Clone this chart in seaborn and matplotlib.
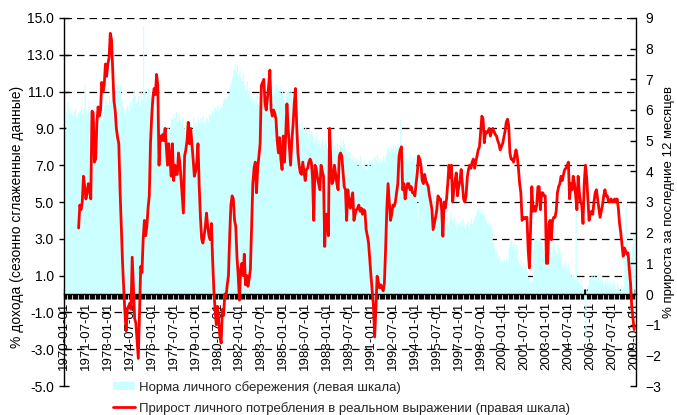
import numpy as np
import matplotlib
matplotlib.use("Agg")
import matplotlib.pyplot as plt
import seaborn as sns

# personal saving rate, % of income (left scale), monthly 1970-01 .. 2009-01
savings = [
    8.2, 8.9, 9.9, 10.5, 10.1, 9.8, 10.0, 9.7, 9.9, 10.1, 9.6, 9.8,
    9.9, 10.0, 10.2, 9.8, 10.1, 11.4, 10.0, 9.8, 10.2, 9.9, 10.1, 9.7,
    9.6, 9.3, 9.5, 9.2, 9.6, 9.4, 9.8, 9.5, 9.9, 10.3, 10.6, 10.4,
    10.3, 10.8, 10.5, 11.0, 11.2, 11.5, 11.0, 11.8, 11.4, 11.0, 11.3, 10.6,
    10.2, 10.0, 9.8, 10.1, 10.3, 10.0, 10.5, 10.2, 10.6, 11.1, 10.8, 10.4,
    10.5, 10.8, 10.3, 11.0, 10.6, 14.6, 11.1, 10.4, 10.8, 11.2, 10.6, 10.9,
    10.6, 10.1, 9.8, 10.0, 9.6, 9.4, 9.6, 9.3, 8.9, 9.2, 8.8, 9.0,
    8.9, 9.1, 8.8, 9.2, 9.6, 9.5, 9.8, 9.6, 9.9, 9.4, 9.7, 9.5,
    9.3, 9.6, 9.1, 8.9, 9.2, 9.0, 9.4, 8.8, 9.3, 9.0, 9.6, 9.2,
    9.4, 9.1, 9.5, 9.3, 9.6, 9.4, 9.7, 9.3, 9.5, 9.6, 9.4, 9.8,
    9.7, 10.0, 9.9, 10.2, 10.1, 10.0, 10.3, 9.9, 10.1, 10.2, 10.4, 10.6,
    10.7, 10.6, 10.8, 10.9, 11.3, 11.5, 11.8, 12.2, 12.5, 12.1, 12.4, 11.9,
    12.2, 11.8, 11.6, 12.0, 11.4, 11.1, 11.6, 10.9, 11.2, 10.6, 10.8, 10.4,
    10.6, 10.3, 10.8, 10.4, 10.1, 10.5, 10.2, 10.6, 10.9, 10.4, 10.8, 11.0,
    10.8, 11.1, 10.9, 11.3, 11.0, 11.4, 11.2, 11.4, 11.0, 11.3, 10.9, 11.1,
    10.6, 10.4, 10.8, 11.0, 11.2, 10.9, 11.1, 10.5, 10.2, 10.7, 10.3, 10.0,
    9.6, 9.3, 9.0, 9.4, 9.1, 8.8, 9.2, 8.9, 8.5, 9.0, 8.7, 8.9,
    8.6, 8.3, 8.5, 8.8, 8.2, 8.4, 8.0, 8.3, 8.5, 8.1, 8.4, 8.2,
    8.0, 8.3, 7.9, 8.2, 8.4, 8.0, 8.1, 7.8, 8.2, 7.9, 8.1, 8.3,
    8.0, 8.4, 8.2, 7.9, 7.6, 7.8, 7.4, 7.7, 7.3, 7.5, 7.2, 7.4,
    7.3, 7.0, 7.2, 7.5, 7.1, 6.9, 7.2, 7.0, 6.8, 7.1, 7.3, 7.0,
    7.2, 7.4, 7.1, 7.5, 7.3, 7.6, 7.2, 7.4, 7.1, 7.3, 7.5, 7.2,
    7.6, 7.9, 8.0, 7.8, 8.0, 7.9, 8.1, 7.8, 8.0, 7.9, 8.2, 8.0,
    9.5, 7.6, 7.3, 7.5, 7.2, 7.4, 7.1, 7.3, 7.6, 7.2, 7.4, 7.5,
    7.1, 6.8, 4.1, 6.6, 6.5, 6.2, 6.4, 6.0, 6.3, 6.5, 6.1, 6.0,
    5.6, 5.3, 5.1, 5.4, 5.0, 5.2, 5.3, 5.0, 5.2, 4.9, 5.1, 5.3,
    4.0, 3.8, 4.2, 3.7, 4.0, 4.5, 4.1, 3.9, 4.2, 3.8, 3.6, 3.9,
    3.8, 4.0, 3.7, 4.1, 3.9, 3.6, 3.8, 4.0, 3.7, 3.9, 4.1, 3.8,
    4.0, 4.2, 4.4, 4.6, 4.7, 4.5, 4.4, 4.6, 4.3, 4.4, 4.1, 3.8,
    3.9, 3.7, 3.8, 3.6, 2.9, 2.6, 2.2, 2.4, 2.0, 2.1, 1.8, 1.9,
    1.7, 1.9, 1.8, 2.0, 1.8, 2.5, 2.9, 3.0, 2.6, 2.8, 2.4, 2.7,
    2.0, 1.8, 1.6, 1.9, 1.5, 1.7, 1.4, 1.6, 1.2, 0.9, 0.6, 0.8,
    0.7, 2.4, 3.0, 3.1, 3.0, 2.9, 3.1, 3.0, 2.8, 2.4, 2.2, 2.0,
    1.8, 2.1, 1.7, 2.3, 2.0, 2.6, 2.8, 2.4, 2.2, 2.7, 2.5, 2.3,
    1.9, 1.6, 1.4, 1.8, 1.5, 1.3, 1.7, 1.2, 1.0, 0.9, 1.1, 0.8,
    4.6, 0.9, 0.7, 0.6, 0.8, 0.5, 0.3, -0.4, -2.7, 0.2, 0.5, 0.8,
    0.9, 1.1, 0.8, 1.0, 0.7, 0.9, 1.1, 0.6, 0.8, 1.0, 0.7, 0.5,
    0.8, 0.6, 0.9, 0.5, 0.7, 0.4, 0.6, 0.8, 0.5, 0.3, 0.6, 0.4,
    0.2, 0.5, 0.3, 0.4, 2.6, 4.8, 2.8, 1.6, 1.2, 2.0, 2.6, 3.2,
    3.4,
]

# real personal consumption, % change over 12 months (right scale), 1971-01 .. 2009-01
consumption = [
    2.15, 2.9, 2.75, 3.0, 3.84, 3.5, 3.1, 3.3, 3.6, 3.4, 3.1, 5.96,
    5.9, 4.3, 4.4, 5.6, 6.1, 5.8, 6.0, 6.9, 6.6, 6.8, 7.5, 7.1,
    7.5, 7.7, 8.5, 8.3, 7.3, 6.3, 6.0, 5.4, 5.1, 4.9, 3.4, 2.2,
    1.1, 0.2, -0.6, -1.2, -0.5, -0.4, -0.3, -0.5, 1.2, 0.2, -0.8, -0.95,
    -1.5, -2.1, -0.6, 0.9, 0.7, 1.8, 2.4, 1.9, 2.2, 2.8, 3.2, 4.9,
    5.8, 6.4, 6.7, 6.5, 7.16, 6.8, 4.2, 5.15, 5.0, 5.2, 5.0, 5.4,
    4.8, 4.2, 4.9, 4.4, 3.84, 4.9, 3.7, 4.2, 3.9, 3.9, 4.6, 4.3,
    3.8, 3.2, 2.64, 4.5, 4.7, 5.0, 5.6, 4.9, 5.4, 4.9, 4.4, 3.84,
    4.0, 4.3, 4.9, 3.5, 2.5, 1.8, 1.66, 1.9, 2.2, 2.64, 2.2, 1.9,
    1.77, 2.3, 1.12, 0.14, -0.5, -1.0, -0.4, -0.9, -1.4, -1.6, -0.5, -0.7,
    0.0, -0.1, 0.3, 0.6, 1.9, 2.9, 3.2, 3.1, 2.4, 2.2, 1.2, 0.6,
    -0.2, 0.8, 1.0, 0.6, 1.3, 0.3, 0.6, 0.25, 0.5, 0.8, 2.2, 3.6,
    4.1, 4.3, 3.3, 4.1, 4.5, 4.9, 6.8, 6.9, 7.0, 6.2, 6.0, 6.4,
    6.8, 7.3, 6.0, 5.8, 6.0, 5.9, 5.7, 5.0, 4.6, 5.1, 4.4, 4.06,
    5.15, 4.3, 5.2, 6.2, 5.4, 4.8, 4.2, 5.0, 5.5, 6.2, 6.7, 5.5,
    4.6, 4.2, 3.95, 3.9, 4.3, 4.0, 3.7, 4.06, 4.1, 4.3, 4.4, 4.3,
    3.8, 2.4, 4.2, 4.1, 3.8, 3.6, 3.4, 4.2, 4.0, 3.84, 1.55, 2.6,
    2.6, 1.9, 5.4, 4.3, 3.6, 3.7, 4.2, 3.9, 3.6, 3.4, 4.5, 4.6,
    4.5, 4.0, 3.5, 3.4, 2.4, 3.4, 3.0, 2.8, 3.1, 3.3, 2.4, 2.6,
    2.75, 2.8, 2.9, 2.7, 2.8, 2.6, 2.75, 2.7, 2.1, 1.9, 1.66, 1.12,
    0.58, 0.1, -0.4, -1.4, -0.5, 0.58, 0.4, 0.2, 0.3, 0.2, 0.1, 0.36,
    1.5, 2.8, 3.6, 3.0, 2.4, 2.6, 2.9, 2.86, 3.0, 3.3, 3.6, 4.5,
    4.7, 4.8, 3.4, 3.6, 3.1, 3.4, 3.6, 3.6, 3.4, 3.5, 3.3, 3.3,
    3.2, 3.6, 3.95, 4.5, 4.4, 4.2, 3.7, 3.6, 3.9, 3.7, 3.6, 3.5,
    3.2, 3.0, 2.75, 2.1, 2.3, 2.5, 2.75, 3.2, 3.1, 3.1, 2.75, 1.88,
    3.0, 2.8, 3.1, 3.6, 4.2, 3.8, 4.2, 3.0, 3.4, 3.7, 3.95, 3.2,
    3.5, 3.7, 4.06, 3.6, 3.1, 3.0, 3.2, 3.8, 4.06, 4.2, 4.1, 4.3,
    4.4, 4.1, 4.3, 4.5, 4.7, 4.8, 5.3, 5.8, 5.7, 4.93, 5.3, 5.25,
    5.3, 5.4, 5.15, 5.3, 5.4, 5.3, 5.2, 5.15, 5.0, 4.9, 4.7, 4.8,
    4.9, 5.1, 5.3, 5.6, 5.7, 5.5, 4.6, 4.4, 4.4, 4.3, 4.5, 4.7,
    4.5, 4.1, 3.6, 3.3, 2.4, 2.5, 2.45, 2.5, 2.5, 1.45, 0.85, 2.2,
    3.5, 2.7, 2.86, 2.7, 2.9, 3.5, 3.5, 2.75, 3.3, 3.3, 3.2, 3.2,
    1.0, 1.0, 2.3, 2.4, 1.77, 2.4, 2.5, 2.5, 2.7, 3.3, 3.5, 3.6,
    3.84, 3.7, 3.9, 4.06, 4.1, 4.2, 4.3, 3.1, 3.6, 3.4, 3.84, 3.6,
    3.2, 2.75, 3.84, 3.3, 3.0, 2.9, 2.3, 3.6, 4.2, 3.8, 3.1, 2.4,
    2.6, 2.7, 2.6, 3.0, 3.3, 3.4, 3.1, 2.8, 2.5, 2.7, 2.9, 3.2,
    3.4, 3.2, 3.2, 3.0, 3.0, 3.1, 3.0, 3.0, 3.1, 3.0, 3.1, 2.8,
    2.3, 2.0, 1.6, 1.23, 1.5, 1.4, 1.3, 1.34, 0.8, 0.36, -0.4, -0.8,
    -1.16,
]
cons_start = 12  # growth series begins in 1971-01

tick_labels = [
    "1970-01-01", "1971-07-01", "1973-01-01", "1974-07-01", "1976-01-01",
    "1977-07-01", "1979-01-01", "1980-07-01", "1982-01-01", "1983-07-01",
    "1985-01-01", "1986-07-01", "1988-01-01", "1989-07-01", "1991-01-01",
    "1992-07-01", "1994-01-01", "1995-07-01", "1997-01-01", "1998-07-01",
    "2000-01-01", "2001-07-01", "2003-01-01", "2004-07-01", "2006-01-01",
    "2007-07-01", "2009-01-01",
]
tick_step = 18

left_label = "% дохода (сезонно сглаженные данные)"
right_label = "% прироста за последние 12 месяцев"
sav_name = "Норма личного сбережения (левая шкала)"
cons_name = "Прирост личного потребления в реальном выражении (правая шкала)"

sns.set_style("ticks")
plt.rcParams['font.family'] = ['Liberation Sans', 'DejaVu Sans']

fig = plt.figure(figsize=(6.77, 4.15), dpi=100)
ax = fig.add_axes([63.5 / 677, 1 - 386 / 415, 572.5 / 677, 368 / 415])

months = np.arange(len(savings))
cons_months = np.arange(cons_start, cons_start + len(consumption))

# dashed grid behind the area
for v in np.arange(-3, 16, 2):
    ax.axhline(v, color='black', lw=0.9, ls=(0, (6, 4)), zorder=0.5)

sav_fill = ax.fill_between(months, savings, 0, step='mid', color='#CCFFFF',
                           lw=0, zorder=1)
ax.set_xlim(-0.4, 469.5)
ax.set_ylim(-5, 15)
lt = np.arange(-5, 16, 2)
ax.set_yticks(lt)
ax.set_yticklabels([f"{v:.1f}" for v in lt])
ax.spines['bottom'].set_position(('data', 0))
ax.spines['top'].set_visible(False)
ax.spines['right'].set_visible(False)
for s in ('left', 'bottom'):
    ax.spines[s].set_color('black')
    ax.spines[s].set_linewidth(1.0)

ax.set_xticks(months[::tick_step])
ax.set_xticklabels(tick_labels, rotation=90)
ax.set_xticks(months, minor=True)
ax.tick_params(axis='x', which='both', direction='inout', length=6.5, width=0.9,
               color='black')
ax.tick_params(axis='x', which='major', labelsize=9.5, pad=2.5, labelcolor='black')
ax.tick_params(axis='y', direction='inout', length=6.5, width=1, color='black',
               labelsize=10, labelcolor='black', pad=3.5)
ax.set_ylabel(left_label, fontsize=10, color='black')
ax.yaxis.set_label_coords(-0.069, 0.459)

ax2 = ax.twinx()
sns.lineplot(x=cons_months, y=consumption, ax=ax2, color='#FF0000',
             linewidth=2.0, estimator=None)
ax2.set_ylim(-3, 9)
ax2.set_yticks(np.arange(-3, 10, 1))
for s in ('top', 'bottom', 'left'):
    ax2.spines[s].set_visible(False)
ax2.spines['right'].set_color('black')
ax2.spines['right'].set_linewidth(1.0)
ax2.tick_params(axis='y', direction='in', length=4, width=1, color='black',
                labelsize=10, labelcolor='black', pad=7)
ax2.set_ylabel(right_label, fontsize=9.5, color='black')
ax2.yaxis.set_label_coords(1.047, 0.499)

cons_line = ax2.get_lines()[0]
fig.legend([sav_fill, cons_line], [sav_name, cons_name], loc='upper left',
           bbox_to_anchor=(113 / 677, 1 - 381 / 415), frameon=False,
           fontsize=9.5, handlelength=1.7, handleheight=0.6, handletextpad=0.3,
           labelspacing=0.6, borderpad=0, borderaxespad=0)

fig.savefig("out.png", dpi=100)
